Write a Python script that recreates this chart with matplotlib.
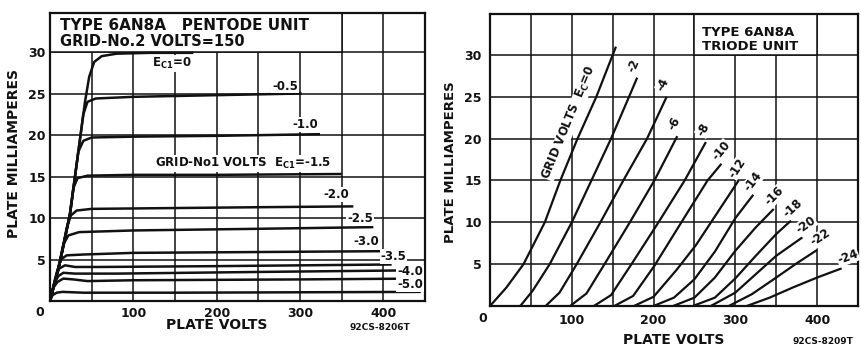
import numpy as np
import matplotlib
matplotlib.use("Agg")
import matplotlib.pyplot as plt
from matplotlib.patches import Rectangle

# --- pentode unit (Ec2 = 150 V): plate volts / plate mA for each Ec1
p0_v = [0, 12, 24, 30, 36, 42, 47, 53, 62, 80, 120, 172]
p0_i = [0, 4.7, 10.5, 15, 19.5, 24, 27, 28.8, 29.5, 29.8, 29.9, 29.9]
p05_v = [0, 12, 24, 30, 36, 40, 45, 55, 100, 200, 302]
p05_i = [0, 4.7, 10.5, 15, 19.5, 22.5, 24.0, 24.4, 24.6, 24.8, 25.0]
p10_v = [0, 12, 24, 30, 34, 40, 50, 100, 200, 324]
p10_i = [0, 4.7, 10.5, 15, 18, 19.3, 19.7, 19.8, 19.9, 20.1]
p15_v = [0, 12, 24, 28, 33, 45, 100, 200, 350]
p15_i = [0, 4.7, 10.5, 13.6, 14.8, 15.1, 15.2, 15.2, 15.3]
p20_v = [0, 12, 20, 25, 32, 50, 150, 250, 364]
p20_i = [0, 4.7, 8.8, 10.3, 10.9, 11.1, 11.2, 11.3, 11.4]
p25_v = [0, 10, 16, 22, 35, 100, 250, 388]
p25_i = [0, 4.0, 6.8, 7.9, 8.3, 8.5, 8.7, 8.9]
p30_v = [0, 8, 13, 20, 40, 100, 250, 396]
p30_i = [0, 3.4, 5.0, 5.5, 5.6, 5.8, 5.9, 6.0]
p35_v = [0, 6, 11, 18, 30, 60, 200, 410]
p35_i = [0, 2.6, 3.9, 4.3, 4.1, 4.1, 4.2, 4.4]
p40_v = [0, 5, 10, 16, 30, 80, 250, 440]
p40_i = [0, 2.1, 3.0, 3.4, 3.3, 3.3, 3.5, 3.7]
p45_v = [0, 4, 9, 16, 28, 45, 100, 300, 440]
p45_i = [0, 1.6, 2.3, 2.7, 2.6, 2.4, 2.5, 2.6, 2.7]
p50_v = [0, 3, 8, 15, 40, 150, 445]
p50_i = [0, 0.7, 1.0, 1.1, 1.0, 1.0, 1.1]

pent_curves = [(p0_v, p0_i), (p05_v, p05_i), (p10_v, p10_i), (p15_v, p15_i),
               (p20_v, p20_i), (p25_v, p25_i), (p30_v, p30_i), (p35_v, p35_i),
               (p40_v, p40_i), (p45_v, p45_i), (p50_v, p50_i)]

# labels for the pentode curves, (text, volts, mA)
pent_labels = [(r"E$_{\mathbf{C1}}$=0", 146, 28.6), ("-0.5", 282, 25.9),
               ("-1.0", 306, 21.3), (r"GRID-No1 VOLTS  E$_{\mathbf{C1}}$=-1.5", 232, 16.6),
               ("-2.0", 344, 12.8), ("-2.5", 372, 9.9), ("-3.0", 380, 7.2),
               ("-3.5", 412, 5.4), ("-4.0", 432, 3.5), ("-5.0", 432, 2.0)]

# --- triode unit: plate volts / plate mA for each grid voltage
t0_v = [0, 20, 41, 67, 86, 107, 130, 154]
t0_i = [0, 2.2, 5, 10, 15, 20, 25, 31]
t2_v = [37, 52, 73, 100, 124, 148, 170, 180]
t2_i = [0, 1.8, 5, 10, 15, 20, 25, 27.3]
t4_v = [68, 85, 106, 135, 163, 192, 216]
t4_i = [0, 1.6, 5, 10, 15, 20, 25]
t6_v = [98, 118, 140, 171, 201, 229]
t6_i = [0, 1.5, 5, 10, 15, 20.3]
t8_v = [127, 148, 173, 206, 238, 264]
t8_i = [0, 1.3, 5, 10, 15, 19.6]
t10_v = [152, 175, 201, 234, 266, 283]
t10_i = [0, 1.2, 4.8, 10, 15, 17]
t12_v = [176, 200, 228, 252, 277, 304]
t12_i = [0, 1.1, 4.3, 7.3, 11, 15]
t14_v = [200, 225, 250, 275, 300, 322]
t14_i = [0, 1.0, 3.2, 6.5, 10.5, 13.3]
t16_v = [224, 250, 275, 300, 325, 347]
t16_i = [0, 1.0, 3.4, 6.6, 9.4, 11.6]
t18_v = [248, 275, 300, 325, 350, 368]
t18_i = [0, 1.0, 3.3, 6.0, 8.6, 10.2]
t20_v = [270, 300, 325, 350, 382]
t20_i = [0, 1.6, 3.8, 6.0, 8.2]
t22_v = [292, 320, 350, 375, 400]
t22_i = [0, 1.4, 3.4, 5.1, 6.7]
t24_v = [314, 342, 370, 400, 430]
t24_i = [0, 1.0, 2.2, 3.4, 4.5]

tri_curves = [(t0_v, t0_i), (t2_v, t2_i), (t4_v, t4_i), (t6_v, t6_i), (t8_v, t8_i),
              (t10_v, t10_i), (t12_v, t12_i), (t14_v, t14_i), (t16_v, t16_i),
              (t18_v, t18_i), (t20_v, t20_i), (t22_v, t22_i), (t24_v, t24_i)]
tri_names = ["0", "-2", "-4", "-6", "-8", "-10", "-12", "-14", "-16", "-18", "-20", "-22", "-24"]

W, H = 861, 351
INK = "#111111"
FONT = "DejaVu Sans"


def fx(x):
    return x / W


def fy(y):
    return 1 - y / H


def setup(ax, top):
    ax.set_xlim(0, 450)
    ax.set_ylim(0, top)
    ax.set_xticks(np.arange(0, 451, 50))
    ax.set_xticklabels(["" if v % 100 or v == 0 else str(v) for v in range(0, 451, 50)])
    ax.set_yticks(np.arange(0, 31, 5))
    ax.set_yticklabels(["" if v == 0 else str(v) for v in range(0, 31, 5)])
    ax.tick_params(length=0, labelsize=9, colors=INK)
    for lab in ax.get_xticklabels() + ax.get_yticklabels():
        lab.set_fontweight("bold")
    ax.grid(True, color=INK, lw=1.1)
    ax.set_axisbelow(True)
    for s in ax.spines.values():
        s.set_linewidth(1.6)
        s.set_color(INK)


def seg_angle(ax, p, q):
    a = ax.transData.transform(p)
    b = ax.transData.transform(q)
    return np.degrees(np.arctan2(b[1] - a[1], b[0] - a[0]))


plt.rcParams["font.family"] = FONT
fig = plt.figure(figsize=(W / 100, H / 100), dpi=100)

# ---------------- pentode
ax1 = fig.add_axes([fx(50), fy(301), fx(375), 288 / H])
setup(ax1, 34.7)
ax1.tick_params(axis="y", pad=3)
ax1.tick_params(axis="x", pad=4)
ax1.add_patch(Rectangle((0, 30), 350, 4.7, facecolor="white", edgecolor=INK, lw=1.1, zorder=1.5))
for v, i in pent_curves:
    ax1.plot(v, i, color=INK, lw=1.8, zorder=2, solid_capstyle="butt")
for txt, v, i in pent_labels:
    ax1.text(v, i, txt, ha="center", va="center", fontsize=8.5, fontweight="bold", color=INK,
             zorder=3, bbox=dict(facecolor="white", edgecolor="none", pad=0.6))
fig.text(fx(60), fy(25), "TYPE 6AN8A   PENTODE UNIT", fontsize=11, fontweight="bold",
         color=INK, va="center")
fig.text(fx(60), fy(42), "GRID-No.2 VOLTS=150", fontsize=10.5, fontweight="bold",
         color=INK, va="center")
fig.text(fx(40), fy(312), "0", fontsize=9, fontweight="bold", color=INK, ha="center", va="center")
fig.text(fx(217), fy(325), "PLATE VOLTS", fontsize=10, fontweight="bold", color=INK,
         ha="center", va="center")
fig.text(fx(14), fy(153), "PLATE MILLIAMPERES", fontsize=10, fontweight="bold", color=INK,
         ha="center", va="center", rotation=90)
fig.text(fx(380), fy(328), "92CS-8206T", fontsize=6.5, fontweight="bold", color=INK,
         ha="center", va="center")

# ---------------- triode
ax2 = fig.add_axes([fx(490), fy(306), fx(368), 292 / H])
setup(ax2, 34.9)
ax2.tick_params(axis="y", pad=6)
ax2.tick_params(axis="x", pad=6)
ax2.add_patch(Rectangle((250, 30), 150, 4.9, facecolor="white", edgecolor=INK, lw=1.1, zorder=1.5))
for (v, i), name in zip(tri_curves, tri_names):
    ax2.plot(v, i, color=INK, lw=1.6, zorder=3, solid_capstyle="butt")
fig.canvas.draw()
for (v, i), name in zip(tri_curves, tri_names):
    ang = seg_angle(ax2, (v[-2], i[-2]), (v[-1], i[-1]))
    t = np.radians(ang)
    if name == "0":
        ia = 21.3
        va = np.interp(ia, i, v)
        ang = seg_angle(ax2, (v[3], i[3]), (v[6], i[6]))
        t = np.radians(ang)
        # set the text beside the curve, on its upper-left side
        ax2.annotate(r"GRID VOLTS  E$_{\mathbf{C}}$=0", (va, ia),
                     xytext=(-10 * np.sin(t), 10 * np.cos(t)), textcoords="offset points",
                     rotation=ang, rotation_mode="anchor", ha="center", va="center",
                     fontsize=8.5, fontweight="bold", color=INK, zorder=2.5,
                     bbox=dict(facecolor="white", edgecolor="none", pad=0.1))
        continue
    dx = 7 * np.cos(t) - 6 * np.sin(t)
    dy = 7 * np.sin(t) + 6 * np.cos(t)
    ax2.annotate(name, (v[-1], i[-1]), xytext=(dx, dy), textcoords="offset points",
                 rotation=ang, ha="center", va="center", fontsize=8.5, fontweight="bold",
                 color=INK, zorder=4, bbox=dict(facecolor="white", edgecolor="none", pad=0.3))
fig.text(fx(702), fy(32), "TYPE 6AN8A", fontsize=9.5, fontweight="bold", color=INK, va="center")
fig.text(fx(702), fy(47), "TRIODE UNIT", fontsize=9.5, fontweight="bold", color=INK, va="center")
fig.text(fx(483), fy(318), "0", fontsize=9, fontweight="bold", color=INK, ha="center", va="center")
fig.text(fx(674), fy(340), "PLATE VOLTS", fontsize=10, fontweight="bold", color=INK,
         ha="center", va="center")
fig.text(fx(451), fy(162), "PLATE MILLIAMPERES", fontsize=9.5, fontweight="bold", color=INK,
         ha="center", va="center", rotation=90)
fig.text(fx(823), fy(341), "92CS-8209T", fontsize=6.5, fontweight="bold", color=INK,
         ha="center", va="center")

fig.savefig("out.png", dpi=100, facecolor="white")
